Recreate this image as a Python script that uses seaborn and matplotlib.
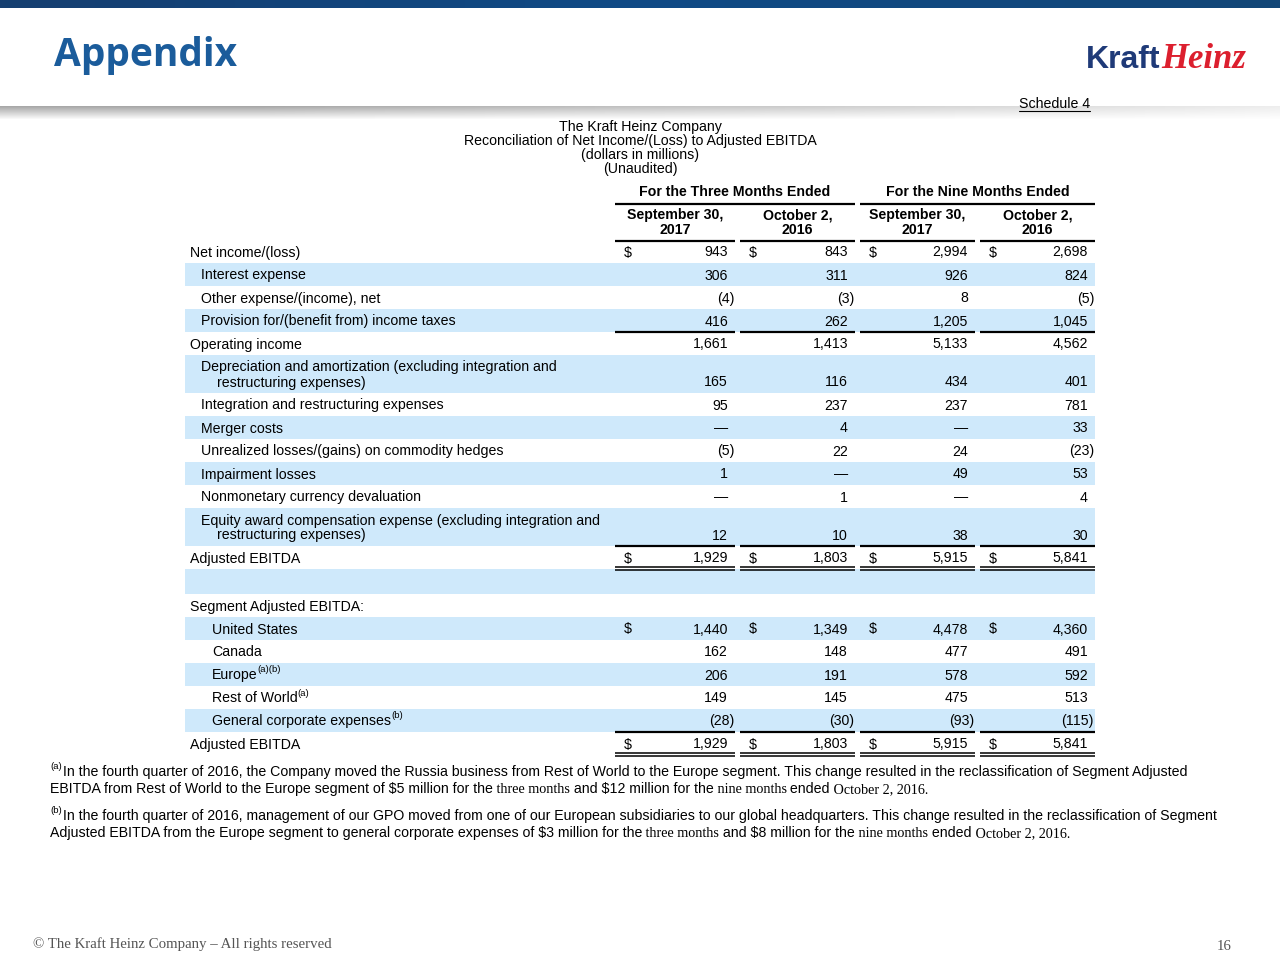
import numpy as np
import matplotlib
matplotlib.use("Agg")
import matplotlib.pyplot as plt
import seaborn as sns

sns.set_theme(style="white")
plt.rcParams['font.family'] = ['Liberation Sans', 'DejaVu Sans']
plt.rcParams['text.color'] = 'black'

# ---- table data ----
row_labels = [
    "Net income/(loss)",
    "Interest expense",
    "Other expense/(income), net",
    "Provision for/(benefit from) income taxes",
    "Operating income",
    "Depreciation and amortization (excluding integration and\nrestructuring expenses)",
    "Integration and restructuring expenses",
    "Merger costs",
    "Unrealized losses/(gains) on commodity hedges",
    "Impairment losses",
    "Nonmonetary currency devaluation",
    "Equity award compensation expense (excluding integration and\nrestructuring expenses)",
    "Adjusted EBITDA",
    "",
    "Segment Adjusted EBITDA:",
    "United States",
    "Canada",
    "Europe",
    "Rest of World",
    "General corporate expenses",
    "Adjusted EBITDA",
]
row_sup = ["", "", "", "", "", "", "", "", "", "", "", "", "", "", "", "", "",
           "(a)(b)", "(a)", "(b)", ""]
row_level = [0, 1, 1, 1, 0, 1, 1, 1, 1, 1, 1, 1, 0, 0, 0, 2, 2, 2, 2, 2, 0]

# 0 -> shown as a dash, None -> empty cell
q3_2017 = [943, 306, -4, 416, 1661, 165, 95, 0, -5, 1, 0, 12, 1929, None, None,
           1440, 162, 206, 149, -28, 1929]
q3_2016 = [843, 311, -3, 262, 1413, 116, 237, 4, 22, 0, 1, 10, 1803, None, None,
           1349, 148, 191, 145, -30, 1803]
ytd_2017 = [2994, 926, 8, 1205, 5133, 434, 237, 0, 24, 49, 0, 38, 5915, None, None,
            4478, 477, 578, 475, -93, 5915]
ytd_2016 = [2698, 824, -5, 1045, 4562, 401, 781, 33, -23, 53, 4, 30, 5841, None, None,
            4360, 491, 592, 513, -115, 5841]
columns = [q3_2017, q3_2016, ytd_2017, ytd_2016]

group_headers = ["For the Three Months Ended", "For the Nine Months Ended"]
col_headers = ["September 30,\n2017", "October 2,\n2016", "September 30,\n2017", "October 2,\n2016"]

dollar_rows = [0, 12, 15, 20]
single_rule_after = [3, 11, 19]
double_rule_after = [12, 20]

title_lines = ["The Kraft Heinz Company",
               "Reconciliation of Net Income/(Loss) to Adjusted EBITDA",
               "(dollars in millions)",
               "(Unaudited)"]

SANS = ['Liberation Sans', 'DejaVu Sans']
SERIF = ['Liberation Serif', 'DejaVu Serif']
foot_a = [
    [("In the fourth quarter of 2016, the Company moved the Russia business from Rest of World to the Europe segment. This change resulted in the reclassification of Segment Adjusted", SANS)],
    [("EBITDA from Rest of World to the Europe segment of $5 million for the", SANS), (" three months", SERIF),
     (" and $12 million for the", SANS), (" nine months", SERIF), (" ended", SANS), (" October 2, 2016.", SERIF)],
]
foot_b = [
    [("In the fourth quarter of 2016, management of our GPO moved from one of our European subsidiaries to our global headquarters. This change resulted in the reclassification of Segment", SANS)],
    [("Adjusted EBITDA from the Europe segment to general corporate expenses of $3 million for the", SANS), (" three months", SERIF),
     (" and $8 million for the", SANS), (" nine months", SERIF), (" ended", SANS), (" October 2, 2016.", SERIF)],
]

FS = 10.2  # table font size

# ---- figure, axes in pixel units ----
fig = plt.figure(figsize=(12.8, 9.6), dpi=100)
ax = fig.add_axes([0, 0, 1, 1])
ax.axis('off')
renderer = fig.canvas.get_renderer()

# top bar
bar = np.linspace(0, 1, 256).reshape(1, -1)
bar_cmap = matplotlib.colors.LinearSegmentedColormap.from_list("bar", ["#163f70", "#0f4a86", "#134677"])
ax.imshow(bar, extent=[0, 1280, 8, 0], aspect='auto', cmap=bar_cmap, zorder=1)

# header shadow
h, w = 14, 256
shade = np.ones((h, w, 4))
shade[..., :3] = 0.62
va = np.linspace(0.9, 0.0, h).reshape(-1, 1)
ha = np.clip(1.2 - np.linspace(0, 1, w) * 1.0, 0.15, 1).reshape(1, -1)
shade[..., 3] = va * ha
ax.imshow(shade, extent=[0, 1280, 120, 106], aspect='auto', zorder=1)

ax.text(54, 66, "Appendix", size=28, weight='bold', color='#1b5c9b', va='baseline',
        family=['Open Sans', 'DejaVu Sans'])

# logo
t = ax.text(1086, 68, "Kraft", size=23, weight='bold', color='#1f3a78', va='baseline', family=SANS)
kw = t.get_window_extent(renderer).width
ax.text(1086 + kw + 1, 68, "Heinz", size=25, weight='bold', style='italic', color='#dc1f2e',
        va='baseline', family=SERIF)

# schedule
t = ax.text(1090, 107.5, "Schedule 4", size=FS, ha='right', va='baseline')
bb = t.get_window_extent(renderer)
ax.plot([1090 - bb.width, 1090], [110.5, 110.5], color='black', lw=0.8)

for i, line in enumerate(title_lines):
    ax.text(640, 130.5 + i * 14.3, line, size=FS, ha='center', va='baseline')

# column geometry
col_left = [615, 740, 860, 980]
col_right = [735, 855, 975, 1095]
table_left, table_right = 185, 1095

# group headers
for g, text in enumerate(group_headers):
    x0, x1 = col_left[2 * g], col_right[2 * g + 1]
    ax.text((x0 + x1) / 2, 196.5, text, size=FS, weight='bold', ha='center', va='baseline')
    ax.plot([x0, x1], [203.5, 203.5], color='black', lw=1.6, solid_capstyle='butt')
for c, text in enumerate(col_headers):
    x0, x1 = col_left[c], col_right[c]
    for k, part in enumerate(text.split("\n")):
        ax.text((x0 + x1) / 2, 219.5 + k * 14, part, size=FS, weight='bold', ha='center', va='baseline')
    ax.plot([x0, x1], [240.5, 240.5], color='black', lw=1.6, solid_capstyle='butt')

# rows
y = 240
indent_x = [190, 201, 212]
for r, label in enumerate(row_labels):
    lines = label.split("\n") if label else [""]
    hgt = 38 if len(lines) > 1 else (25 if label == "" else 23)
    if r % 2 == 1:
        ax.axhspan(y, y + hgt, xmin=table_left / 1280, xmax=table_right / 1280,
                   color='#cfe9fb', lw=0, zorder=0)
    x = indent_x[row_level[r]]
    for k, part in enumerate(lines):
        ty = (y + 11.5 + k * 15 if len(lines) > 1 else y + hgt / 2) + 5
        t = ax.text(x + (16 if k > 0 else 0), ty, part, size=FS, va='baseline', parse_math=False)
        if k == len(lines) - 1 and row_sup[r]:
            tw = t.get_window_extent(renderer).width
            ax.text(x + tw, ty - 7, row_sup[r], size=6.8, va='baseline', parse_math=False)
    vy = y + hgt - 11.5 + 5
    for c, col in enumerate(columns):
        v = col[r]
        if v is None:
            continue
        if r in dollar_rows:
            ax.text(col_left[c] + 9, vy, "$", size=FS, va='baseline', parse_math=False)
        if v == 0:
            s, xr = "\u2014", col_right[c] - 7
        elif v < 0:
            s, xr = f"({-v:,})", col_right[c] - 1
        else:
            s, xr = f"{v:,}", col_right[c] - 7
        ax.text(xr, vy, s, size=FS, ha='right', va='baseline', parse_math=False)
    y += hgt
    if r in single_rule_after:
        for c in range(4):
            ax.plot([col_left[c], col_right[c]], [y, y], color='black', lw=1.6, solid_capstyle='butt')
    if r in double_rule_after:
        for c in range(4):
            for dy in (-2.5, 1.0):
                ax.plot([col_left[c], col_right[c]], [y + dy, y + dy],
                        color='black', lw=1.1, solid_capstyle='butt')


def draw_runs(x, yy, runs, size=10.2):
    for text, fam in runs:
        t = ax.text(x, yy, text, size=size, family=fam, va='baseline', parse_math=False)
        x += t.get_window_extent(renderer).width


for block, sup, y0 in ((foot_a, "(a)", 771), (foot_b, "(b)", 815)):
    ax.text(50, y0 - 2, sup, size=6.8, va='baseline')
    draw_runs(63, y0 + 5, block[0])
    draw_runs(50, y0 + 22, block[1])

# footer
ax.text(33, 948, "\u00a9 The Kraft Heinz Company \u2013 All rights reserved", size=10.7,
        family=SERIF, color='#555555', va='baseline')
ax.text(1232, 950, "16", size=10.7, family=SERIF, color='#555555', va='baseline', ha='right')

ax.set_xlim(0, 1280)
ax.set_ylim(960, 0)
fig.savefig("out.png", dpi=100)
